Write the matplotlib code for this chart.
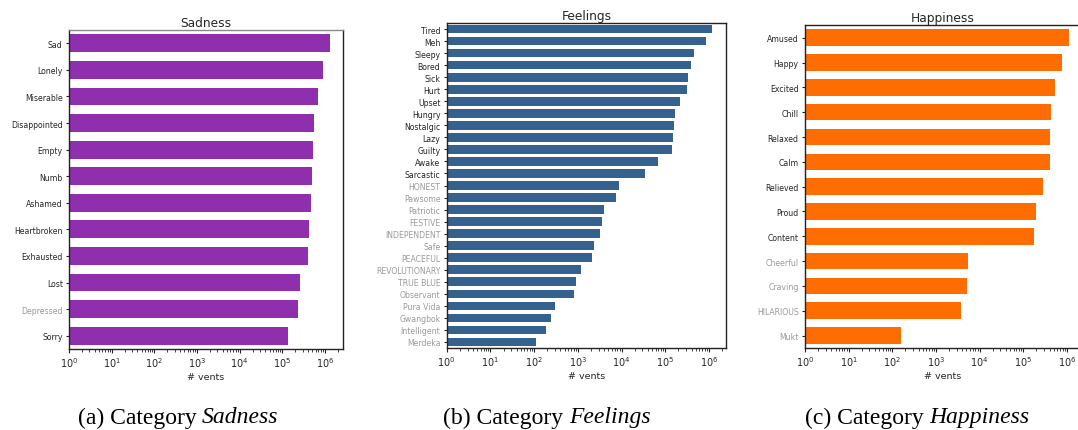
import matplotlib
matplotlib.use("Agg")
import matplotlib.pyplot as plt
import numpy as np

# ---------------- data ----------------
sad_labels = ["Sad", "Lonely", "Miserable", "Disappointed", "Empty", "Numb",
              "Ashamed", "Heartbroken", "Exhausted", "Lost", "Depressed", "Sorry"]
sad_values = [1.3e6, 8.9e5, 6.8e5, 5.5e5, 5.2e5, 4.9e5,
              4.7e5, 4.2e5, 4.0e5, 2.6e5, 2.3e5, 1.35e5]
sad_grey = ["Depressed"]

feel_labels = ["Tired", "Meh", "Sleepy", "Bored", "Sick", "Hurt", "Upset", "Hungry",
               "Nostalgic", "Lazy", "Guilty", "Awake", "Sarcastic", "HONEST", "Pawsome",
               "Patriotic", "FESTIVE", "INDEPENDENT", "Safe", "PEACEFUL", "REVOLUTIONARY",
               "TRUE BLUE", "Observant", "Pura Vida", "Gwangbok", "Intelligent", "Merdeka"]
feel_values = [1.2e6, 8.5e5, 4.5e5, 3.8e5, 3.4e5, 3.1e5, 2.2e5, 1.65e5,
               1.56e5, 1.48e5, 1.41e5, 6.8e4, 3.4e4, 8.7e3, 7.4e3,
               3.9e3, 3.5e3, 3.3e3, 2.3e3, 2.1e3, 1.17e3,
               9.0e2, 8.1e2, 2.96e2, 2.4e2, 1.85e2, 1.1e2]
feel_grey = ["HONEST", "Pawsome", "Patriotic", "FESTIVE", "INDEPENDENT", "Safe",
             "PEACEFUL", "REVOLUTIONARY", "TRUE BLUE", "Observant", "Pura Vida",
             "Gwangbok", "Intelligent", "Merdeka"]

happy_labels = ["Amused", "Happy", "Excited", "Chill", "Relaxed", "Calm", "Relieved",
                "Proud", "Content", "Cheerful", "Craving", "HILARIOUS", "Mukt"]
happy_values = [1.14e6, 7.8e5, 5.4e5, 4.4e5, 4.2e5, 4.1e5, 2.9e5,
                2.0e5, 1.8e5, 5.5e3, 5.2e3, 3.8e3, 1.6e2]
happy_grey = ["Cheerful", "Craving", "HILARIOUS", "Mukt"]

titles = ["Sadness", "Feelings", "Happiness"]
captions = [("(a) Category", "Sadness"), ("(b) Category", "Feelings"),
            ("(c) Category", "Happiness")]

# ---------------- figure ----------------
W, H = 1078, 431
fig = plt.figure(figsize=(W / 100, H / 100), dpi=100)

panels = [
    dict(labels=sad_labels, values=sad_values, grey=sad_grey, color="#8f2fad",
         rect=[69, 31, 343, 350], xmax=10 ** 6.42, bh=0.67, top="#8a8a8a"),
    dict(labels=feel_labels, values=feel_values, grey=feel_grey, color="#35618f",
         rect=[446.7, 24, 726, 349], xmax=10 ** 6.39, bh=0.72, top="#222222"),
    dict(labels=happy_labels, values=happy_values, grey=happy_grey, color="#ff6d00",
         rect=[805, 26.3, 1080, 349], xmax=10 ** 6.30, bh=0.67, top="#222222"),
]

dark = "#262626"
grey = "#9a9a9a"

for p, title in zip(panels, titles):
    x0, y0, x1, y1 = p["rect"]
    ax = fig.add_axes([x0 / W, 1 - y1 / H, (x1 - x0) / W, (y1 - y0) / H])
    n = len(p["labels"])
    ypos = np.arange(n)
    ax.barh(ypos, p["values"], height=p["bh"], color=p["color"], left=0)
    ax.set_xscale("log")
    ax.set_xlim(1, p["xmax"])
    ax.set_ylim(n - 0.5, -0.5)
    ax.set_yticks(ypos)
    ax.set_yticklabels(p["labels"], fontsize=5.6)
    for lab in ax.get_yticklabels():
        lab.set_color(grey if lab.get_text() in p["grey"] else dark)
    ax.tick_params(axis="y", length=2.5, width=0.8, pad=2, color="#222222")
    ax.tick_params(axis="x", which="major", labelsize=7, length=3, width=0.8,
                   pad=1.5, color="#222222", labelcolor=dark)
    ax.tick_params(axis="x", which="minor", length=1.8, width=0.6, color="#222222")
    ax.set_xlabel("# vents", fontsize=6.8, color=dark, labelpad=2)
    ax.set_title(title, fontsize=8.8, color=dark, pad=3)
    for s in ax.spines.values():
        s.set_color("#222222")
        s.set_linewidth(1.0)
    ax.spines["top"].set_color(p["top"])

# captions: roman part + italic part, centered together
cap_centers = [178, 547, 917]
cap_y = 1 - 418 / H
fig.canvas.draw()
renderer = fig.canvas.get_renderer()
for (roman, ital), cx in zip(captions, cap_centers):
    t1 = fig.text(0, cap_y, roman, fontsize=17, family="Liberation Serif",
                  va="center", ha="left", color="black")
    t2 = fig.text(0, cap_y, ital, fontsize=17, family="Liberation Serif",
                  style="italic", va="center", ha="left", color="black")
    w1 = t1.get_window_extent(renderer).width
    w2 = t2.get_window_extent(renderer).width
    gap = 5.5
    start = cx - (w1 + gap + w2) / 2
    t1.set_x(start / W)
    t2.set_x((start + w1 + gap) / W)

fig.savefig("out.png", dpi=100)
